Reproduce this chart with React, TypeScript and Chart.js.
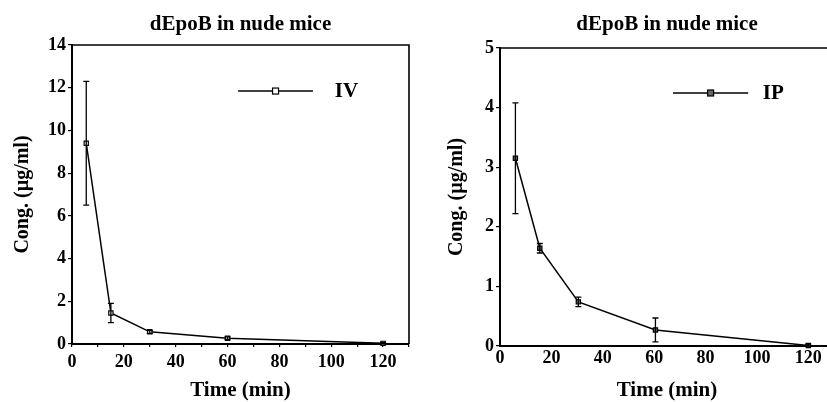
import React, { useEffect, useRef } from 'react';
import { Chart, registerables } from 'chart.js';

Chart.register(...registerables);

// ---- data ----
const ivTime = [5.5, 15, 30, 60, 120];
const ivConc = [9.4, 1.45, 0.57, 0.27, 0.03];
const ivErr = [2.9, 0.45, 0.07, 0.06, 0.04];

const ipTime = [6, 15.5, 30.5, 60.5, 120];
const ipConc = [3.15, 1.64, 0.74, 0.27, 0.01];
const ipErr = [0.93, 0.08, 0.08, 0.2, 0.02];

const chartTitle = 'dEpoB in nude mice';
const xTitle = 'Time (min)';
const yTitle = 'Cong. (µg/ml)';
const ivLabel = 'IV';
const ipLabel = 'IP';

const xTickValsLeft = [0, 10, 20, 30, 40, 50, 60, 70, 80, 90, 100, 110, 120, 130];
const xTickValsRight = [0, 20, 40, 60, 80, 100, 120];

const FONT = "'Liberation Serif', 'Times New Roman', serif";

const errorBarsPlugin = {
  id: 'errorBars',
  afterDatasetsDraw(chart: any) {
    const ctx = chart.ctx;
    const ys = chart.scales.y;
    chart.data.datasets.forEach((ds: any, di: number) => {
      const meta = chart.getDatasetMeta(di);
      const errs: number[] = ds.errors || [];
      meta.data.forEach((pt: any, i: number) => {
        const e = errs[i];
        if (!e) return;
        const v = ds.data[i].y;
        const top = ys.getPixelForValue(v + e);
        const bot = ys.getPixelForValue(Math.max(v - e, 0));
        ctx.save();
        ctx.strokeStyle = '#000';
        ctx.lineWidth = 1.3;
        ctx.beginPath();
        ctx.moveTo(pt.x, top);
        ctx.lineTo(pt.x, bot);
        ctx.moveTo(pt.x - 3, top);
        ctx.lineTo(pt.x + 3, top);
        ctx.moveTo(pt.x - 3, bot);
        ctx.lineTo(pt.x + 3, bot);
        ctx.stroke();
        ctx.restore();
      });
    });
  },
};

const framePlugin = {
  id: 'frame',
  afterDraw(chart: any) {
    const { ctx, chartArea: a } = chart;
    ctx.save();
    ctx.strokeStyle = '#000';
    ctx.lineWidth = 1.6;
    ctx.beginPath();
    ctx.moveTo(a.left, a.top);
    ctx.lineTo(a.right, a.top);
    ctx.lineTo(a.right, a.bottom);
    ctx.stroke();
    ctx.restore();
  },
};

const inlineLegendPlugin = {
  id: 'inlineLegend',
  afterDraw(chart: any, _args: any, opts: any) {
    const { ctx, chartArea: a } = chart;
    const w = a.right - a.left;
    const h = a.bottom - a.top;
    const x1 = a.left + opts.x1 * w;
    const x2 = a.left + opts.x2 * w;
    const y = a.top + opts.y * h;
    const tx = a.left + opts.tx * w;
    ctx.save();
    ctx.strokeStyle = '#000';
    ctx.lineWidth = 1.5;
    ctx.beginPath();
    ctx.moveTo(x1, y);
    ctx.lineTo(x2, y);
    ctx.stroke();
    const mx = (x1 + x2) / 2;
    ctx.fillStyle = opts.fill;
    ctx.fillRect(mx - 3, y - 3, 6, 6);
    ctx.lineWidth = 1.2;
    ctx.strokeRect(mx - 3, y - 3, 6, 6);
    ctx.fillStyle = '#000';
    ctx.font = `bold 21px ${FONT}`;
    ctx.textBaseline = 'middle';
    ctx.textAlign = 'left';
    ctx.fillText(opts.label, tx, y + 1);
    ctx.restore();
  },
};

function makeConfig(p: any): any {
  return {
    type: 'line',
    data: {
      datasets: [
        {
          label: p.label,
          data: p.times.map((t: number, i: number) => ({ x: t, y: p.values[i] })),
          errors: p.errors,
          borderColor: '#000',
          borderWidth: 1.5,
          pointStyle: 'rect',
          pointRadius: 3,
          pointBackgroundColor: p.fill,
          pointBorderColor: '#000',
          pointBorderWidth: 1.2,
          tension: 0,
          clip: false,
        },
      ],
    },
    plugins: [errorBarsPlugin, framePlugin, inlineLegendPlugin],
    options: {
      responsive: false,
      animation: false,
      devicePixelRatio: 1,
      layout: { padding: { left: 0, right: 11, top: 0, bottom: 0 } },
      plugins: {
        legend: { display: false },
        tooltip: { enabled: false },
        title: {
          display: true,
          text: chartTitle,
          color: '#000',
          fullSize: false,
          font: { family: FONT, size: 21, weight: 'bold', lineHeight: 1.2 },
          padding: { top: 12, bottom: p.titleBottom },
        },
        inlineLegend: p.legend,
      },
      scales: {
        x: {
          type: 'linear',
          min: 0,
          max: 130,
          afterFit(s: any) {
            s.height = p.xHeight;
          },
          afterBuildTicks(s: any) {
            s.ticks = p.xTickVals.map((v: number) => ({ value: v }));
          },
          ticks: {
            autoSkip: false,
            maxRotation: 0,
            color: '#000',
            padding: p.xTickPad,
            font: { family: FONT, size: 18, weight: 'bold' },
            callback: (v: number) => (v % 20 === 0 && v <= 120 ? String(v) : ''),
          },
          grid: {
            drawOnChartArea: false,
            drawTicks: p.xDrawTicks,
            tickLength: 3,
            color: '#000',
            lineWidth: 1.2,
          },
          border: { display: true, color: '#000', width: 2 },
          title: {
            display: true,
            text: xTitle,
            color: '#000',
            font: { family: FONT, size: 21, weight: 'bold', lineHeight: 1 },
            padding: { top: 0, bottom: 1 },
          },
        },
        y: {
          min: 0,
          max: p.yMax,
          afterFit(s: any) {
            s.width = p.yWidth;
          },
          ticks: {
            stepSize: p.yStep,
            color: '#000',
            padding: 2,
            font: { family: FONT, size: 18, weight: 'bold' },
          },
          grid: {
            drawOnChartArea: false,
            drawTicks: true,
            tickLength: 4,
            color: '#000',
            lineWidth: 1.2,
          },
          border: { display: true, color: '#000', width: 2 },
          title: {
            display: true,
            text: yTitle,
            color: '#000',
            font: { family: FONT, size: 20, weight: 'bold', lineHeight: 1 },
            padding: { top: p.yTitlePad, bottom: 0 },
          },
        },
      },
    },
  };
}

function ChartCanvas({ config, width, height }: any) {
  const ref = useRef<HTMLCanvasElement | null>(null);
  useEffect(() => {
    if (!ref.current) return;
    const chart = new Chart(ref.current, config);
    return () => chart.destroy();
  }, [config]);
  return <canvas ref={ref} width={width} height={height} style={{ width, height, display: 'block' }} />;
}

const leftConfig = makeConfig({
  label: ivLabel,
  times: ivTime,
  values: ivConc,
  errors: ivErr,
  fill: '#fff',
  yMax: 14,
  yStep: 2,
  yWidth: 72,
  xHeight: 58,
  titleBottom: 7.8,
  xTickPad: 5,
  xDrawTicks: true,
  xTickVals: xTickValsLeft,
  yTitlePad: 13,
  legend: { x1: 0.493, x2: 0.715, y: 0.154, tx: 0.78, label: ivLabel, fill: '#fff' },
});

const rightConfig = makeConfig({
  label: ipLabel,
  times: ipTime,
  values: ipConc,
  errors: ipErr,
  fill: '#666',
  yMax: 5,
  yStep: 1,
  yWidth: 80,
  xHeight: 56,
  titleBottom: 10.8,
  xTickPad: 2,
  xDrawTicks: false,
  xTickVals: xTickValsRight,
  yTitlePad: 27,
  legend: { x1: 0.518, x2: 0.743, y: 0.151, tx: 0.787, label: ipLabel, fill: '#666' },
});

export default function App() {
  return (
    <div
      style={{
        position: 'fixed',
        left: 0,
        top: 0,
        width: 827,
        height: 402,
        overflow: 'hidden',
        background: '#fff',
      }}
    >
      <div style={{ position: 'absolute', left: 0, top: 0 }}>
        <ChartCanvas config={leftConfig} width={420} height={402} />
      </div>
      <div style={{ position: 'absolute', left: 420, top: 0 }}>
        <ChartCanvas config={rightConfig} width={425} height={402} />
      </div>
    </div>
  );
}
